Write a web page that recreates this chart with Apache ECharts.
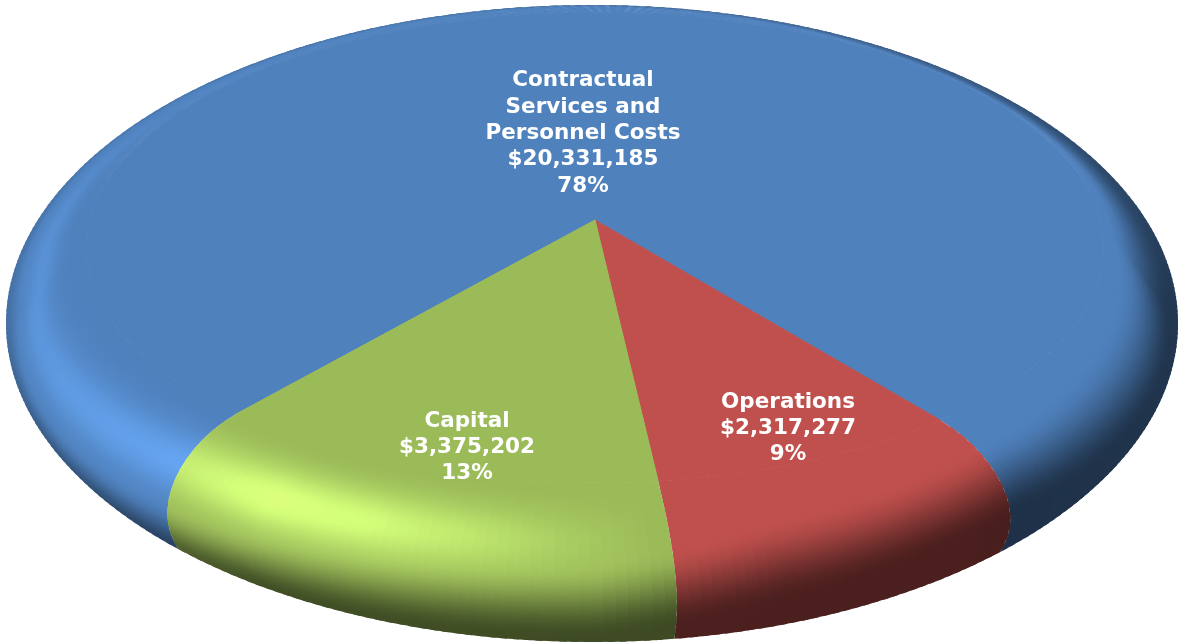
<!DOCTYPE html>
<html><head><meta charset="utf-8">
<style>html,body{margin:0;padding:0;background:#fff}#c{width:1178px;height:643px}</style>
<script src="https://cdn.jsdelivr.net/npm/echarts@6/dist/echarts.min.js"></script>
</head><body><div id="c"></div>
<script>
// ---- data ----
var names = ['Contractual\nServices and\nPersonnel Costs', 'Operations', 'Capital'];
var amounts = [20331185, 2317277, 3375202];
var amountLabels = ['$20,331,185', '$2,317,277', '$3,375,202'];
var percentLabels = ['78%', '9%', '13%'];
var colors = ['#4f81bd', '#c0504d', '#9bbb59'];

// ---- layout / style ----
var firstAngle = 319.65;            // where the first slice begins (deg, from straight down, + = screen right)
var apex = [595, 220], A = 505, B = 232, K = 0.117;
var rimC = [592, 323.5], rimRx = 586, rimRy = 318.5;
var labelPos = [[583, 133.5], [788, 428.5], [467, 447.5]];
var FONT = '"DejaVu Sans", Verdana, sans-serif';

// tone tables: [deg, value]
var T_depth = [[-180,.88],[-130,.92],[-90,.86],[-60,.68],[-30,.42],[0,.40],[40,.38],[90,.42],[130,.6],[180,.88]];
var T_s0 = [[-180,.7],[-130,.9],[-90,.82],[-60,.75],[-30,.66],[0,.55],[15,.36],[40,.25],[90,.1],[130,.3],[180,.7]];
var T_s1 = [[-180,1],[-60,1],[-30,1],[0,.97],[15,.84],[40,.72],[90,.92],[130,1],[180,1]];
var T_hi = [[-180,0],[-130,.03],[-100,.12],[-70,.17],[-45,.25],[-40,.28],[-30,.42],[-20,.36],[-10,.22],[-3,.1],[5,0],[180,0]];
var T_hc = [[-180,.65],[-100,.62],[-70,.5],[-40,.42],[0,.42],[180,.42]];

function table(t, d) {
  for (var i = 1; i < t.length; i++) {
    if (d <= t[i][0]) { var a = t[i-1], b = t[i], f = (d-a[0])/(b[0]-a[0]); return a[1]+(b[1]-a[1])*f; }
  }
  return t[t.length-1][1];
}
function norm(d) { d = d % 360; if (d > 180) d -= 360; if (d < -180) d += 360; return d; }
function rad(d) { return d*Math.PI/180; }
function inner(d) {
  var u = Math.sin(rad(d)), v = Math.cos(rad(d)), w = 1 - K*v;
  return [apex[0] + A*u/w, apex[1] + B*v/w];
}
function outer(d) {
  var t = d + 5.2*Math.sin(rad(2*d)) + .6;
  return [rimC[0] + rimRx*Math.sin(rad(t)), rimC[1] + rimRy*Math.cos(rad(t))];
}
function rim(d, s) {
  var p0 = inner(d), p3 = outer(d);
  var dx = p3[0]-p0[0], dy = p3[1]-p0[1];
  var w = Math.max(0, Math.min(1, Math.cos(rad(d))/0.72));
  var p1 = [p0[0] + (1-w)*dx/3 + w*(p0[0]-apex[0])*.14, p0[1] + (1-w)*dy/3 + w*(p0[1]-apex[1])*.14];
  var p2 = [p3[0] - (1-w)*dx/3 + w*.55*dx, p3[1] - (1-w)*dy/3 - w*.32*dy];
  var m = 1-s;
  return [m*m*m*p0[0]+3*m*m*s*p1[0]+3*m*s*s*p2[0]+s*s*s*p3[0],
          m*m*m*p0[1]+3*m*m*s*p1[1]+3*m*s*s*p2[1]+s*s*s*p3[1]];
}
function smooth(a, b, x) { var t = Math.max(0, Math.min(1, (x-a)/(b-a))); return t*t*(3-2*t); }
function shade(rgb, d, s) {
  d = norm(d);
  var dark = 1 - (1-table(T_depth, d))*smooth(table(T_s0, d), table(T_s1, d), s);
  var c = (s-table(T_hc, d))/0.19;
  var hi = 1 + table(T_hi, d)*Math.exp(-c*c)*smooth(0,.18,s);
  var f = dark*hi;
  return 'rgb(' + rgb.map(function(v){ return Math.min(255, Math.round(v*f)); }).join(',') + ')';
}
function toRgb(h) { return [1,3,5].map(function(i){ return parseInt(h.substr(i,2),16); }); }
function cellFill(rgb, a, b, s0, s1) {
  var m = (a+b)/2, pa = rim(a,(s0+s1)/2), pb = rim(b,(s0+s1)/2);
  var tx = pb[0]-pa[0], ty = pb[1]-pa[1], L = Math.hypot(tx,ty) || 1;
  var nx = -ty/L, ny = tx/L;
  var p = rim(m,s0), q = rim(m,s1);
  var d = (q[0]-p[0])*nx + (q[1]-p[1])*ny;
  return {type:'linear', global:true, x:p[0], y:p[1], x2:p[0]+nx*d, y2:p[1]+ny*d,
    colorStops:[{offset:0,color:shade(rgb,m,s0)},{offset:.5,color:shade(rgb,m,(s0+s1)/2)},{offset:1,color:shade(rgb,m,s1)}]};
}

var total = amounts.reduce(function(a,b){return a+b;},0);
var chart = echarts.init(document.getElementById('c'), null, {renderer:'canvas'});

function renderItem(params, api) {
  var i = params.dataIndex, before = 0;
  for (var k = 0; k < i; k++) before += api.value(0, k);
  var v = api.value(0);
  var d0 = firstAngle - 360*before/total, d1 = d0 - 360*v/total;
  var rgb = toRgb(colors[i]);
  var kids = [];
  var steps = Math.ceil((d0-d1)/1), S = 14;
  var top = [apex];
  for (var n = 0; n <= steps; n++) top.push(inner(d0 + (d1-d0)*n/steps));
  kids.push({type:'polygon', shape:{points:top}, style:{fill:colors[i], stroke:colors[i], lineWidth:1}});
  for (n = 0; n < steps; n++) {
    var a = d0 + (d1-d0)*n/steps, b = d0 + (d1-d0)*(n+1)/steps;
    var bx = n < steps-1 ? b + (b-a)*.6 : b;       // overlap the next wedge so no seam shows
    for (var j = 0; j < S; j++) {
      var s0 = j/S, s1 = (j+1)/S, sx = j < S-1 ? s1 + .6/S : 1;
      var f = cellFill(rgb, a, b, s0, s1);
      kids.push({type:'polygon', shape:{points:[rim(a,s0),rim(bx,s0),rim(bx,sx),rim(a,sx)]},
        style:{fill:f}});
    }
  }
  kids.push({type:'text', x:labelPos[i][0], y:labelPos[i][1], style:{
    text:names[i]+'\n'+amountLabels[i]+'\n'+percentLabels[i],
    fill:'#fff', font:'bold 21.5px '+FONT, lineHeight:26.3, align:'center', verticalAlign:'middle'}});
  return {type:'group', children:kids};
}

chart.setOption({
  animation:false,
  backgroundColor:'#fff',
  series:[{type:'custom', coordinateSystem:'none', silent:true, clip:false, renderItem:renderItem,
    data:amounts.map(function(v,i){ return {name:names[i], value:[v]}; }), encode:{value:0}}]
});
</script></body></html>
